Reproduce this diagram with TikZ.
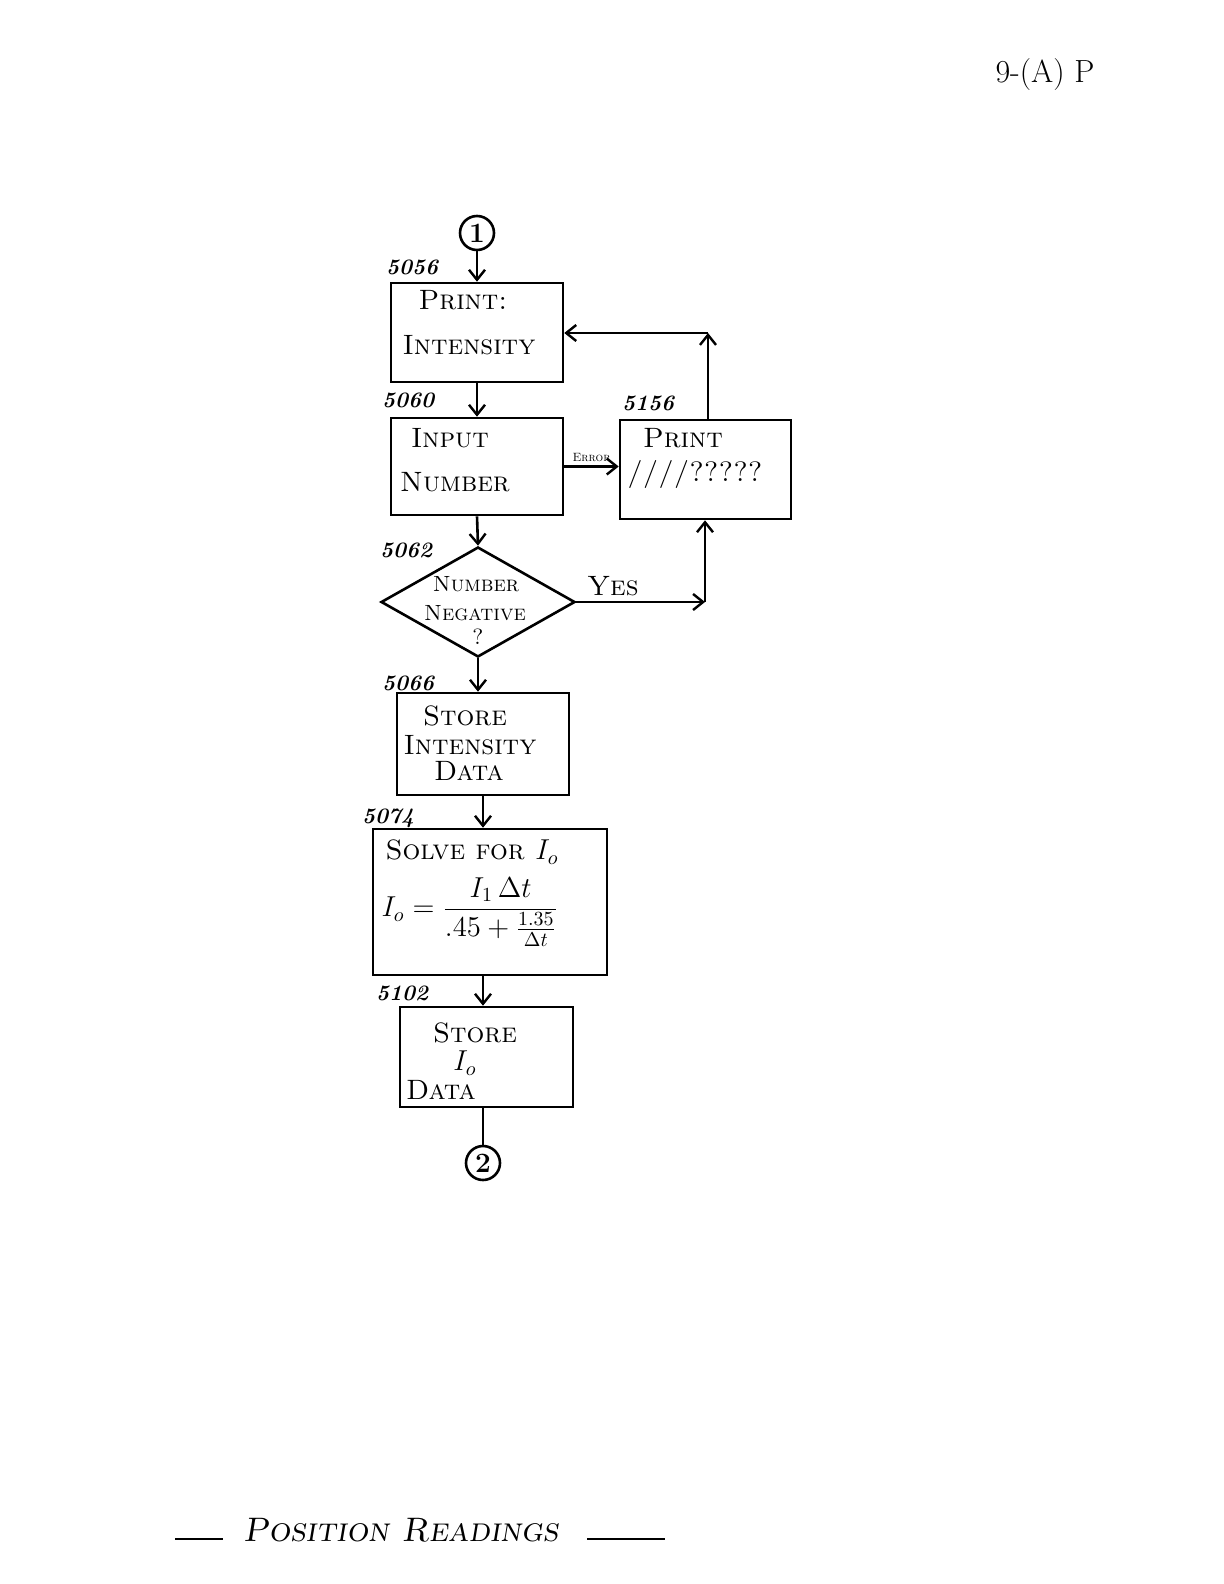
\documentclass[tikz,border=0pt]{standalone}
\usetikzlibrary{arrows.meta,shapes.geometric}
\begin{document}
\begin{tikzpicture}[x=0.5pt,y=-0.5pt,
  ln/.style={line width=1.3pt},
  arr/.style={ln,-{Straight Barb[length=5pt,width=8pt,line width=1.2pt]}},
  box/.style={draw,line width=1.3pt,rectangle,inner sep=0pt},
  txt/.style={font=\fontsize{14}{16}\selectfont\scshape,inner sep=0pt},
  dtxt/.style={font=\fontsize{11}{13}\selectfont\scshape,inner sep=0pt},
  num/.style={font=\fontsize{11}{13}\selectfont\itshape\bfseries,inner sep=0pt},
  conn/.style={draw,circle,line width=1.3pt,minimum size=17pt,inner sep=0pt,font=\fontsize{14}{16}\selectfont\bfseries}]
\useasboundingbox (0,0) rectangle (1224,1584);
% boxes
\node[box,minimum width=86pt,minimum height=49.5pt] (b1) at (477,332.5) {};
\node[box,minimum width=86pt,minimum height=48.5pt] (b2) at (477,466.5) {};
\node[box,minimum width=85.5pt,minimum height=49.5pt] (b3) at (705.5,469.5) {};
\node[draw,diamond,line width=1.3pt,minimum width=97pt,minimum height=55pt,inner sep=0pt] (d) at (478,602) {};
\node[box,minimum width=86pt,minimum height=51pt] (b4) at (483,744) {};
\node[box,minimum width=117pt,minimum height=73pt] (b5) at (490,902) {};
\node[box,minimum width=86.5pt,minimum height=50pt] (b6) at (486.5,1057) {};
\node[conn] (c1) at (477,233) {1};
\node[conn] (c2) at (483,1163) {2};
% texts
\node[txt] (t1a) at (463,300) {Print:};
\node[txt] (t1b) at (469,345) {Intensity};
\node[txt] (t2a) at (450,438) {Input};
\node[txt] (t2b) at (455,482) {Number};
\node[txt] (t3a) at (683,438) {Print};
\node[txt] (t3b) at (695,474) {////?????};
\node[dtxt] (tda) at (476,584) {Number};
\node[dtxt] (tdb) at (475,613) {Negative};
\node[dtxt] (tdc) at (478,637) {?};
\node[txt] (t4a) at (465,716) {Store};
\node[txt] (t4b) at (470,745) {Intensity};
\node[txt] (t4c) at (469,771) {Data};
\node[txt] (t5a) at (472,852) {Solve for $I_o$};
\node[txt] (t5b) at (470,912) {$\displaystyle I_o = \frac{I_1\,\Delta t}{.45+\frac{1.35}{\Delta t}}$};
\node[txt] (t6a) at (475,1033) {Store};
\node[txt] (t6b) at (465,1063) {$I_o$};
\node[txt] (t6c) at (441,1090) {Data};
% step numbers
\node[num] (n1) at (412,267) {5056};
\node[num] (n2) at (408,400) {5060};
\node[num] (n3) at (648,403) {5156};
\node[num] (n4) at (406,550) {5062};
\node[num] (n5) at (408,683) {5066};
\node[num] (n6) at (388,818) {5074};
\node[num] (n7) at (402,993) {5102};
% page mark and caption
\node[font=\fontsize{16}{18}\selectfont] (pg) at (1045,75) {9-(A) P};
\node[font=\fontsize{17}{20}\selectfont\scshape\itshape] (cap) at (401,1530) {Position Readings};
\draw[ln] (175,1539) -- (223,1539);
\draw[ln] (587,1539) -- (665,1539);
% connectors
\draw[arr] (c1) -- (c1 |- b1.north);
\draw[arr] (b1.south) -- (b2.north);
\draw[arr] (b2.south) -- (d.north);
\draw[arr] (b2.east) -- (b2.east -| b3.west) node[midway,above=2pt,inner sep=0pt,font=\fontsize{6}{7}\selectfont\scshape] {Error};
\coordinate (lc) at (708,333);
\draw[arr] (b3.north -| lc) -- (lc);
\draw[arr] (lc) -- (lc -| b1.east);
\coordinate (yc) at (705,602);
\draw[arr] (d.east) -- (yc);
\node[txt] (yes) at (613,586) {Yes};
\draw[arr] (yc) -- (yc |- b3.south);
\draw[arr] (d.south) -- (d.south |- b4.north);
\draw[arr] (b4.south) -- (b4.south |- b5.north);
\draw[arr] (c2 |- b5.south) -- (c2 |- b6.north);
\draw[ln] (c2 |- b6.south) -- (c2);
\end{tikzpicture}
\end{document}
